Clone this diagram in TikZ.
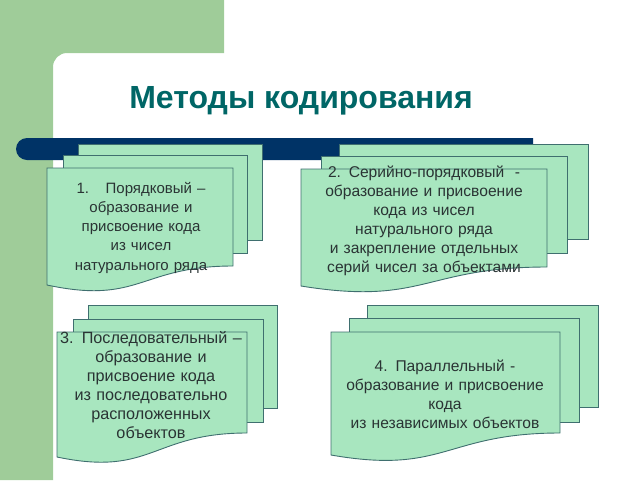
\documentclass[tikz,border=0pt]{standalone}
\usepackage{fontspec}
\setmainfont{Liberation Sans}

\definecolor{bggreen}{HTML}{9FCC99}
\definecolor{barblue}{HTML}{003366}
\definecolor{cardfill}{HTML}{A8E6BF}
\definecolor{cardline}{HTML}{3F6F6F}
\definecolor{titleteal}{HTML}{006666}
\definecolor{cardtext}{HTML}{2A3434}

\begin{document}
\begin{tikzpicture}[x=1pt,y=1pt]
\tikzstyle{every node}+=[inner sep=0pt]
\tikzstyle{card}=[fill=cardfill,draw=cardline,line width=0.9pt]
\tikzstyle{cardtxt}=[anchor=base,text width=250pt,align=center,text=cardtext,font=\fontsize{15.6}{19}\selectfont]
\useasboundingbox (0,0) rectangle (640,-480);
% background
\fill [bggreen] (0,0) -- (224,0) -- (224,-53) -- (67,-53) arc[start angle=90,end angle=180,radius=14] -- (53,-480) -- (0,-480) -- cycle;
\fill [barblue] (533,-138) -- (27,-138) arc[start angle=90,end angle=270,radius=11] -- (533,-160) -- cycle;
\node [anchor=base,text=titleteal,font=\fontsize{32}{38}\selectfont\bfseries] (title) at (301,-108) {Методы кодирования};
% card 1
\draw [card] (78,-144) rectangle (262,-240);
\draw [card] (63,-155) rectangle (247,-253);
\draw [card] (47,-168) -- (233,-168) -- (233,-266) .. controls (140,-266) and (140,-305) .. (47,-285) -- cycle;
\node [cardtxt,font=\fontsize{15}{19.3}\selectfont] (ordinal) at (141,-193) {1.\hspace{1.1em}Порядковый –\\образование и\\присвоение кода\\из чисел\\натурального ряда};
% card 2
\draw [card] (339,-144) rectangle (588,-239);
\draw [card] (321,-156) rectangle (567,-253);
\draw [card] (301,-169) -- (547,-169) -- (547,-267) .. controls (424,-267) and (424,-306) .. (301,-286) -- cycle;
\node [cardtxt] (serial) at (424,-177) {2. Серийно-порядковый \ -\\образование и присвоение\\кода из чисел\\натурального ряда\\и закрепление отдельных\\серий чисел за объектами};
% card 3
\draw [card] (88,-305) rectangle (277,-408);
\draw [card] (73,-319) rectangle (263,-422);
\draw [card] (57,-332) -- (247,-332) -- (247,-433) .. controls (152,-433) and (152,-477) .. (57,-457) -- cycle;
\node [cardtxt,font=\fontsize{16.2}{19}\selectfont] (sequential) at (151,-343) {3. Последовательный –\\образование и\\присвоение кода\\из последовательно\\расположенных\\объектов};
% card 4
\draw [card] (367,-305) rectangle (598,-407);
\draw [card] (349,-318) rectangle (579,-422);
\draw [card] (331,-332) -- (560,-332) -- (560,-433) .. controls (445,-433) and (445,-475) .. (331,-455) -- cycle;
\node [cardtxt] (parallel) at (445,-371) {4. Параллельный -\\образование и присвоение\\кода\\из независимых объектов};
\end{tikzpicture}
\end{document}
